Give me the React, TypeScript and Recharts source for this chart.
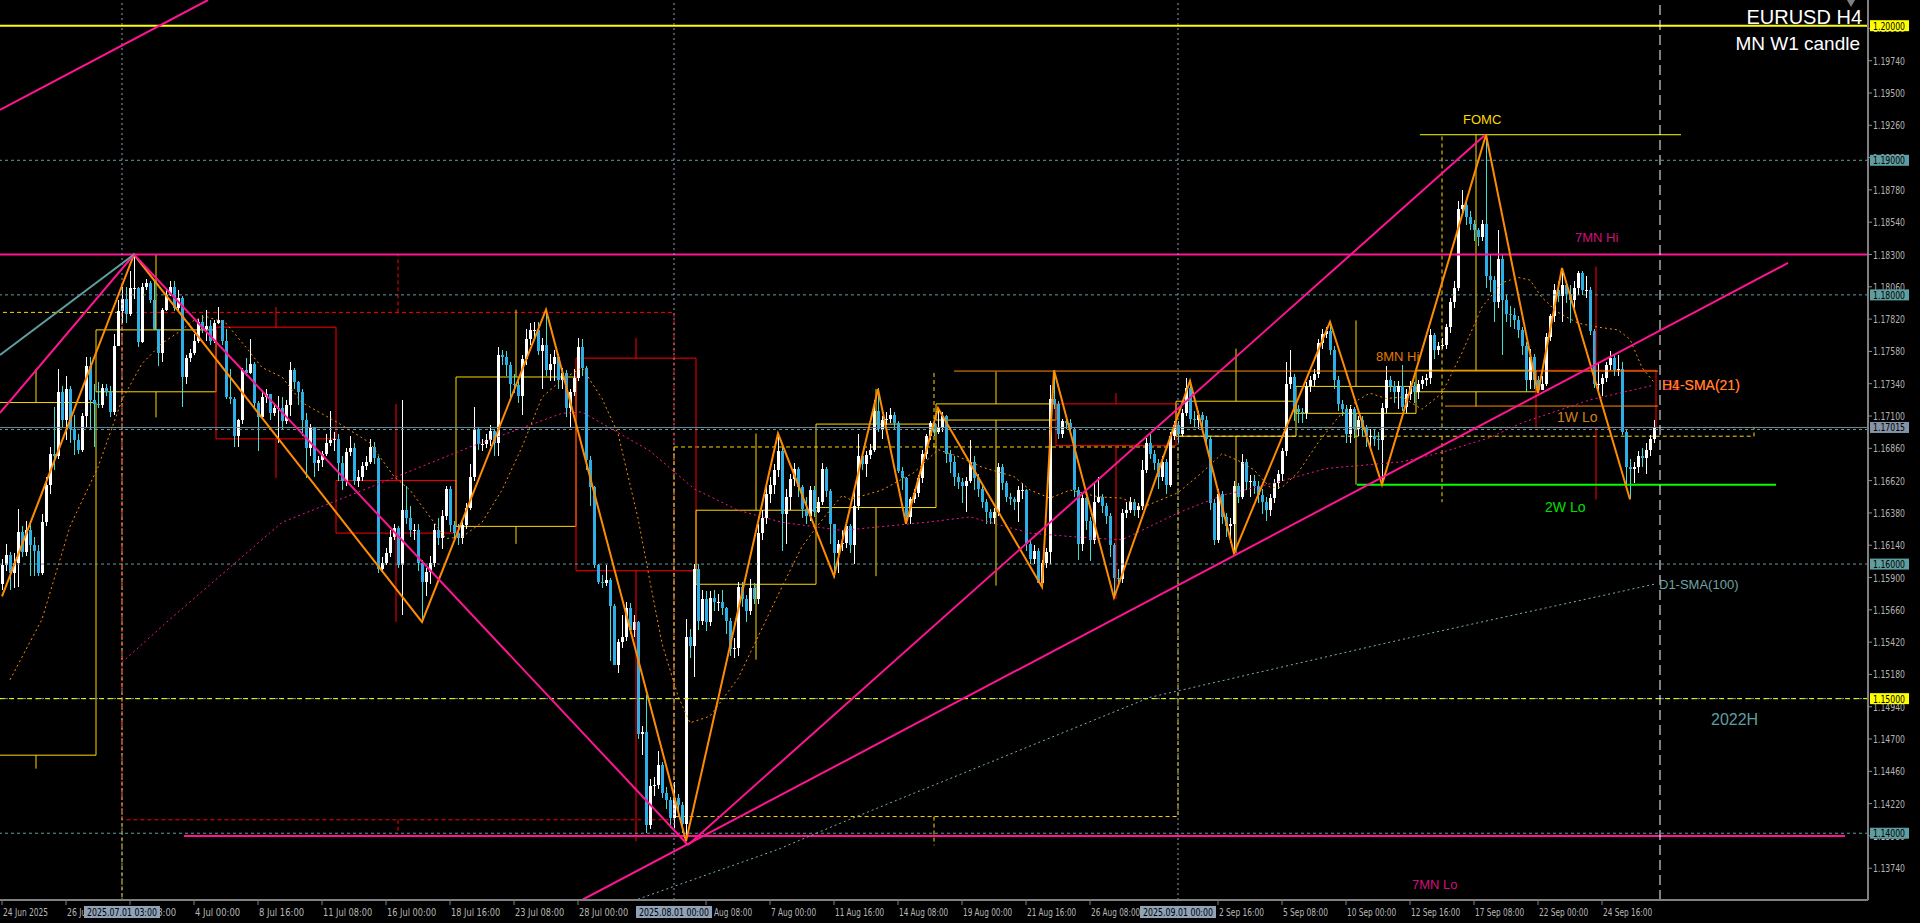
import React from 'react';
import { ComposedChart, Bar, Line, XAxis, YAxis, ReferenceLine, ReferenceArea, ReferenceDot } from 'recharts';

// ---------- candle data (pips above BASE) ----------
const BASE = 1.13;
const firstOpen = 285;
const closeP = [
  299,307,293,301,324,309,325,314,310,293, 331,359,382,380,428,407,430,400,392,385,
  410,447,422,419,418,431,428,413,462,488, 497,486,505,505,465,506,509,496,475,457,
  489,500,506,490,498,439,453,457,466,480, 475,477,466,479,481,466,424,423,395,407,
  444,442,449,420,409,424,426,412,416,416, 406,418,444,435,428,407,386,401,375,377,
  382,390,392,393,375,362,383,386,362,365, 373,376,387,379,296,301,308,320,327,299,
  340,334,325,325,301,287,294,301,325,319, 336,356,329,323,319,329,342,365,400,389,
  389,392,399,390,455,454,448,434,433,425, 452,467,474,474,458,463,444,449,454,437,
  442,416,428,438,461,446,377,357,299,287, 286,288,269,225,242,246,267,251,257,174,
  175,106,135,136,151,130,125,111,126,121, 107,246,239,296,258,274,257,275,272,272,
  267,258,237,238,283,274,265,282,274,323, 334,352,359,370,384,337,350,363,371,357,
  341,336,355,339,346,371,354,330,308,315, 316,328,314,343,380,374,381,385,414,400,
  407,408,411,405,369,364,335,348,353,364, 382,395,405,398,401,410,382,376,365,361,
  358,362,376,364,356,346,339,334,339,372, 360,350,348,346,355,355,315,304,310,286,
  301,309,423,419,397,406,405,400,355,315, 349,332,318,346,350,343,336,314,290,289,
  338,340,346,340,343,370,390,382,375,365, 376,359,395,403,397,412,431,408,407,411,
  407,393,345,318,352,335,328,330,358,350, 376,361,362,358,351,346,340,349,360,367,
  384,434,439,415,413,412,432,437,441,464, 471,473,459,437,419,415,397,415,400,407,
  401,395,395,393,392,416,437,432,428,432, 417,426,432,428,434,437,438,470,459,462,
  463,476,495,505,564,567,558,553,548,543, 553,514,511,495,527,496,486,485,481,474,
  462,437,454,437,429,434,469,484,504,499, 507,501,496,505,516,504,504,473,434,434,
  438,448,453,444,445,398,372,371,372,380, 379,385,393,402,
];
const highP = [
  304,315,309,308,341,328,332,332,320,314, 337,365,387,417,445,432,440,432,411,397,
  412,454,454,434,435,434,434,432,471,496, 506,506,518,530,506,509,512,510,511,475,
  490,504,510,510,504,499,455,460,471,482, 485,489,481,481,491,481,475,445,424,408,
  446,453,467,450,421,429,430,426,420,425, 424,422,450,446,436,430,412,404,402,380,
  384,397,414,398,397,380,386,395,390,370, 376,380,393,391,380,305,312,325,330,328,
  422,358,343,330,330,303,297,306,330,334, 340,358,358,332,330,331,345,374,417,401,
  393,397,403,400,461,459,458,450,441,436, 455,475,479,480,480,468,489,456,459,456,
  446,444,430,445,468,467,447,380,358,300, 292,299,290,270,244,262,272,271,262,258,
  180,203,140,142,161,153,134,127,138,129, 123,259,252,300,300,281,280,280,281,278,
  281,268,260,245,287,287,277,289,286,330, 340,361,365,374,397,388,356,367,375,372,
  359,350,358,358,350,375,372,356,330,318, 325,330,330,356,397,382,384,389,422,431,
  410,413,416,413,406,372,365,350,356,366, 385,397,406,409,416,413,411,385,380,368,
  364,365,392,380,367,358,348,341,342,375, 374,362,353,350,358,360,356,318,314,312,
  303,312,433,444,421,408,410,408,402,357, 352,350,335,361,365,352,345,338,316,296,
  341,346,350,348,345,377,394,398,385,378, 380,378,398,406,406,415,438,437,414,414,
  413,410,395,348,356,354,338,334,362,360, 382,378,366,366,362,356,350,352,363,370,
  386,450,459,441,418,416,435,440,445,467, 475,476,480,462,440,422,418,418,417,410,
  410,403,400,400,398,420,447,440,436,436, 448,430,436,435,437,440,441,475,472,465,
  468,478,498,510,570,578,570,562,556,550, 556,619,530,514,548,530,500,492,490,484,
  476,465,460,456,440,440,472,486,508,510, 520,510,507,510,518,518,514,506,475,450,
  441,450,458,456,455,450,400,378,376,384, 386,390,396,407,
];
const lowP = [
  281,295,281,282,283,305,306,291,291,291, 292,328,352,370,378,402,392,390,381,382,
  383,402,400,387,416,416,425,409,411,469, 479,479,484,497,461,464,504,494,474,447,
  450,488,499,488,489,417,434,450,455,464, 472,466,463,464,478,463,423,419,387,387,
  404,440,441,416,384,408,420,407,410,390, 400,404,410,430,418,395,364,380,365,369,
  372,380,388,384,362,355,358,380,359,357, 362,370,374,374,293,293,299,305,318,297,
  262,330,320,318,295,257,276,285,298,314, 311,333,324,318,314,315,326,340,362,385,
  384,386,388,380,380,448,440,424,427,420, 411,448,463,468,455,430,440,436,436,430,
  430,409,401,425,436,440,370,343,297,285, 282,284,228,225,219,238,243,248,246,170,
  158,100,103,128,133,126,118,104,104,114, 100,94,230,216,251,255,250,254,265,265,
  262,248,232,230,232,268,257,262,270,270, 318,330,345,352,365,310,315,340,358,350,
  334,330,332,335,338,344,350,315,290,293, 310,312,308,300,340,370,365,378,383,398,
  393,403,405,400,368,355,330,330,345,350, 360,378,392,395,397,398,375,368,358,356,
  345,339,360,355,350,342,330,330,330,336, 355,346,344,340,331,348,310,300,300,290,
  283,297,300,415,393,394,400,397,350,303, 310,325,302,315,345,338,330,305,275,283,
  286,334,338,336,334,340,368,378,370,356, 362,352,357,392,390,395,410,404,402,400,
  402,390,340,314,316,330,320,316,308,345, 348,355,350,352,345,337,332,336,345,356,
  362,380,430,406,405,405,408,428,432,438, 460,468,455,430,414,410,390,390,394,395,
  395,387,386,388,385,359,412,428,420,415, 414,412,422,420,423,430,432,434,452,455,
  460,460,472,490,503,560,552,548,540,536, 540,505,502,480,490,455,480,476,475,468,
  455,428,430,430,427,430,432,466,480,495, 480,494,479,490,500,500,498,470,431,428,
  425,435,444,440,440,396,355,348,360,368, 372,367,380,390,
];

// ---------- indicator readings [bar, price] ----------
const h4Sma21: [number, number][] = [
  [2,1.1514],[10,1.1559],[17,1.1628],[24,1.1672],[30,1.1722],[35,1.1749],[40,1.1764],[44,1.1772],[48,1.1781],[51,1.1784],
  [56,1.1779],[61,1.1761],[65,1.1746],[70,1.1739],[75,1.1720],[84,1.1705],[92,1.1690],[98,1.1665],[102,1.1655],[107,1.1635],
  [111,1.1619],[115,1.1620],[120,1.1631],[125,1.1655],[130,1.1687],[135,1.1724],[140,1.1737],[145,1.1746],[150,1.1723],[154,1.1697],
  [159,1.1634],[162,1.1587],[165,1.1541],[169,1.1502],[172,1.1482],[177,1.1487],[180,1.1499],[184,1.1515],[189,1.1546],[194,1.1577],
  [200,1.1613],[204,1.1629],[210,1.1651],[212,1.1648],[220,1.1655],[228,1.1668],[234,1.1685],[239,1.1680],[245,1.1672],[253,1.1665],
  [257,1.1655],[262,1.1649],[267,1.1655],[274,1.1650],[280,1.1649],[285,1.1642],[294,1.1653],[300,1.1668],[305,1.1682],[309,1.1677],
  [313,1.1670],[317,1.1657],[320,1.1657],[324,1.1668],[329,1.1690],[334,1.1709],[339,1.1722],[342,1.1727],[346,1.1723],[350,1.1724],
  [355,1.1715],[360,1.1727],[365,1.1757],[370,1.1791],[375,1.1809],[379,1.1813],[382,1.1811],[385,1.1798],[389,1.1787],[394,1.1779],
  [399,1.1776],[404,1.1774],[407,1.1767],[410,1.1746],[413,1.1735],
];
const d1Sma21: [number, number][] = [
  [30,1.1527],[42,1.1559],[70,1.1631],[92,1.1657],[117,1.1687],[140,1.1712],[145,1.1713],[162,1.1684],[173,1.1656],[184,1.1640],
  [195,1.1631],[210,1.1625],[231,1.1631],[242,1.1635],[257,1.1623],[269,1.1620],[280,1.1618],[294,1.1638],[305,1.1651],[319,1.1661],
  [331,1.1671],[350,1.1676],[360,1.1683],[372,1.1694],[380,1.1705],[397,1.1722],[413,1.1733],
];
const d1Sma100: [number, number][] = [
  [159,1.1351],[194,1.1388],[210,1.1408],[287,1.1501],[350,1.1544],[413,1.1585],
];
const zigzag: [number, number][] = [
  [0,1.1576],[33,1.1830],[105,1.1557],[136,1.1789],[171,1.1394],[194,1.1697],[208,1.1591],[219,1.1730],[226,1.1630],
  [234,1.1716],[260,1.1583],[263,1.1744],[278,1.1575],[297,1.1736],[308,1.1608],[332,1.1780],[345,1.1659],[371,1.1919],
  [384,1.1727],[390,1.1820],[407,1.1648],
];

// ---------- weekly / monthly candles ----------
const weekStart = [-6,24,54,84,114,144,174,204,234,264,294,324,354,384];
const weekOpen  = [1.1458,1.1728,1.1776,1.1662,1.1628,1.1753,1.1585,1.1642,1.1707,1.1719,1.1695,1.1712,1.1728,1.1744];
const weekClose = [1.1720,1.1774,1.1693,1.1623,1.1739,1.1595,1.1640,1.1704,1.1719,1.1688,1.1721,1.1732,1.1744,1.17015];
const weekHigh  = [1.1745,1.1830,1.1791,1.1719,1.1789,1.1768,1.1697,1.1730,1.1743,1.1727,1.1760,1.1781,1.1919,1.1821];
const weekLow   = [1.1448,1.1709,1.1664,1.1557,1.1615,1.1394,1.1529,1.1591,1.1584,1.1574,1.1608,1.1659,1.1717,1.1648];

const monthStart = [-96,30,168,294];
const monthEnd   = [30,168,294,438];
const monthOpen  = [1.1350,1.1787,1.14124,1.1695];
const monthClose = [1.1787,1.1410,1.1687,1.17015];
const monthHigh  = [1.1745,1.1830,1.1743,1.1919];
const monthLow   = [1.1210,1.1400,1.1391,1.1646];
const monthWick  = [-33,99,233,360];

// ---------- axes ----------
const X_MIN = -0.5, X_MAX = 466.5;
const Y_MIN = 1.13504, Y_MAX = 1.20191;
const xTickBars = [0,16,32,48,64,80,96,112,128,144,176,192,208,224,240,256,272,304,320,336,352,368,384,400];
const xTickLabels = ['24 Jun 2025','26 Jun 16:00','1 Jul 08:00','4 Jul 00:00','8 Jul 16:00','11 Jul 08:00','16 Jul 00:00','18 Jul 16:00','23 Jul 08:00','28 Jul 00:00','4 Aug 08:00','7 Aug 00:00','11 Aug 16:00','14 Aug 08:00','19 Aug 00:00','21 Aug 16:00','26 Aug 08:00','2 Sep 16:00','5 Sep 08:00','10 Sep 00:00','12 Sep 16:00','17 Sep 08:00','22 Sep 00:00','24 Sep 16:00'];
const sepBars = [30,168,294];
const sepLabels = ['2025.07.01 03:00','2025.08.01 00:00','2025.09.01 00:00'];

const priceTicks = [1.1374,1.1398,1.1422,1.1446,1.1470,1.1494,1.1518,1.1542,1.1566,1.1590,1.1614,1.1638,1.1662,1.1686,1.1710,1.1734,1.1758,1.1782,1.1806,1.1830,1.1854,1.1878,1.1902,1.1926,1.1950,1.1974,1.1998];
const tagLevels = [1.2,1.19,1.18,1.17015,1.16,1.15,1.14];
const tagColors = ['#ffff00','#5f9ea0','#5f9ea0','#8493a6','#5f9ea0','#ffff00','#5f9ea0'];

// ---------- lines & texts ----------
const tealLevels = [1.19,1.18,1.17,1.16,1.15,1.14];
const trendLines: { a: [number, number]; b: [number, number]; color: string }[] = [
  { a: [-0.5, 1.19374], b: [51.5, 1.20191], color: '#ff1493' },
  { a: [-0.5, 1.17123], b: [33, 1.1830], color: '#ff1493' },
  { a: [-0.5, 1.17554], b: [33, 1.1830], color: '#5f9ea0' },
  { a: [33, 1.1830], b: [171.5, 1.13913], color: '#ff1493' },
  { a: [171.5, 1.13913], b: [370.75, 1.19188], color: '#ff1493' },
  { a: [145, 1.13504], b: [446.5, 1.18237], color: '#ff1493' },
];
const segLines: { y: number; x1: number; x2: number; color: string; w: number }[] = [
  { y: 1.1398, x1: 45.5, x2: 460.75, color: '#ff1493', w: 2 },
  { y: 1.1659, x1: 338.75, x2: 443.5, color: '#00ff00', w: 2 },
  { y: 1.17174, x1: 360.75, x2: 414, color: '#ff8c00', w: 1 },
  { y: 1.17434, x1: 238, x2: 414, color: '#ff8c00', w: 1 },
  { y: 1.1919, x1: 354.5, x2: 419.75, color: '#ffff00', w: 1 },
];
const texts: { t: string; bar: number; p: number; color: string; size: number }[] = [
  { t: 'FOMC', bar: 365.25, p: 1.19307, color: '#ffd700', size: 13 },
  { t: '7MN Hi', bar: 393.25, p: 1.18430, color: '#d0107a', size: 13 },
  { t: '8MN Hi', bar: 343.5, p: 1.17539, color: '#e07b00', size: 13 },
  { t: 'D1-SMA(21)', bar: 415, p: 1.17331, color: '#ff1493', size: 14 },
  { t: 'H4-SMA(21)', bar: 415, p: 1.17331, color: '#ff8c00', size: 14 },
  { t: '1W Lo', bar: 388.75, p: 1.17093, color: '#d2801a', size: 14 },
  { t: '2W Lo', bar: 385.75, p: 1.16424, color: '#00e000', size: 14 },
  { t: 'D1-SMA(100)', bar: 414.25, p: 1.15852, color: '#6fa3a3', size: 13 },
  { t: '2022H', bar: 427.25, p: 1.14849, color: '#5f9ea0', size: 16 },
  { t: '7MN Lo', bar: 352.5, p: 1.13623, color: '#d0107a', size: 13 },
];

// ---------- build table ----------
type Row = { i: number; o: number; h: number; l: number; c: number; range: [number, number]; h4?: number; d21?: number; d100?: number; zz?: number };
const rows: Row[] = closeP.map((cv, i) => {
  const o = BASE + (i === 0 ? firstOpen : closeP[i - 1]) / 10000;
  const c = BASE + cv / 10000;
  const h = Math.max(BASE + highP[i] / 10000, o, c);
  const l = Math.min(BASE + lowP[i] / 10000, o, c);
  return { i, o, h, l, c, range: [l, h] };
});
h4Sma21.forEach(([b, v]) => { rows[b].h4 = v; });
d1Sma21.forEach(([b, v]) => { rows[b].d21 = v; });
d1Sma100.forEach(([b, v]) => { rows[b].d100 = v; });
zigzag.forEach(([b, v]) => { rows[b].zz = v; });

const FONT = "'Liberation Sans', Arial, sans-serif";
const AXFONT = "'DejaVu Sans Condensed', 'Liberation Sans Narrow', 'Liberation Sans', sans-serif";

const Candle = (props: any) => {
  const { x, y, width, height, payload } = props;
  if (!payload) return null;
  const { o, h, l, c } = payload;
  let top = y, hh = height;
  if (hh < 0) { top = y + hh; hh = -hh; }
  const k = h > l ? hh / (h - l) : 0;
  const cx = Math.round(x + width / 2);
  const yO = top + (h - o) * k;
  const yC = top + (h - c) * k;
  const bull = c >= o;
  const bt = Math.min(yO, yC);
  const bh = Math.max(1, Math.abs(yO - yC));
  return (
    <g shapeRendering="crispEdges">
      <rect x={cx} y={top} width={1} height={Math.max(1, hh)} fill={bull ? '#ffffff' : '#40e0d0'} />
      <rect x={cx - 1} y={bt} width={3} height={bh} fill={bull ? '#ffffff' : '#2eaee6'} />
    </g>
  );
};

const XTick = (props: any) => {
  const { x, y, payload } = props;
  const v = payload.value;
  const si = sepBars.indexOf(v);
  if (si >= 0) {
    return (
      <g>
        <rect x={x - 38} y={y + 6} width={76} height={12} fill="#8fa2b8" />
        <text x={x} y={y + 15.5} textAnchor="middle" fill="#000" fontSize={11} fontFamily={AXFONT} textLength={70} lengthAdjust="spacingAndGlyphs">{sepLabels[si]}</text>
      </g>
    );
  }
  const ti = xTickBars.indexOf(v);
  const t = ti >= 0 ? xTickLabels[ti] : '';
  return (
    <g>
      <line x1={x} x2={x} y1={y} y2={y + 5} stroke="#808080" />
      <text x={x + 1} y={y + 15.5} fill="#b8b8b8" fontSize={11} fontFamily={AXFONT} textLength={t.length * 4.1} lengthAdjust="spacingAndGlyphs">{t}</text>
    </g>
  );
};

const YTick = (props: any) => {
  const { x, y, payload } = props;
  const v = payload.value as number;
  const ti = tagLevels.findIndex((t) => Math.abs(t - v) < 1e-7);
  const label = v.toFixed(5);
  if (ti >= 0) {
    return (
      <g>
        <rect x={x + 2} y={y - 5.5} width={39} height={11} fill={tagColors[ti]} />
        <text x={x + 5} y={y + 4} fill="#000" fontSize={11} fontFamily={AXFONT} textLength={32} lengthAdjust="spacingAndGlyphs">{label}</text>
      </g>
    );
  }
  return (
    <g>
      <line x1={x} x2={x + 4} y1={y} y2={y} stroke="#909090" />
      <text x={x + 5} y={y + 4} fill="#b4b4b4" fontSize={11} fontFamily={AXFONT} textLength={32} lengthAdjust="spacingAndGlyphs">{label}</text>
    </g>
  );
};

const Tag = (props: any) => {
  const { viewBox, text, color, size } = props;
  if (!viewBox) return null;
  const x = viewBox.x + (viewBox.width || 0) / 2;
  const y = viewBox.y + (viewBox.height || 0) / 2;
  return (
    <text x={x} y={y} dy="0.35em" fill={color} fontSize={size} fontFamily={FONT}>{text}</text>
  );
};

export default function App() {
  return (
    <div style={{ position: 'absolute', left: 0, top: 0, width: 1920, height: 923, background: '#000', overflow: 'hidden' }}>
      <ComposedChart width={1920} height={923} data={rows} margin={{ top: 0, right: 0, bottom: 0, left: 0 }}>
        <XAxis dataKey="i" type="number" domain={[X_MIN, X_MAX]} allowDataOverflow ticks={[...xTickBars, ...sepBars]} interval={0}
          tick={XTick} tickLine={false} tickSize={0} tickMargin={0} axisLine={{ stroke: '#808080', strokeWidth: 2 }} height={23} />
        <YAxis orientation="right" type="number" domain={[Y_MIN, Y_MAX]} allowDataOverflow ticks={[...priceTicks, ...tagLevels]} interval={0}
          tick={YTick} tickLine={false} tickSize={0} tickMargin={0} axisLine={{ stroke: '#808080', strokeWidth: 2 }} width={52} />

        {/* monthly candles (dashed) */}
        {monthStart.map((s, k) => {
          const col = monthClose[k] >= monthOpen[k] ? '#ffd700' : '#ff0000';
          const top = Math.max(monthOpen[k], monthClose[k]);
          const bot = Math.min(monthOpen[k], monthClose[k]);
          return (
            <React.Fragment key={'m' + k}>
              <ReferenceArea x1={s} x2={monthEnd[k]} y1={bot} y2={top} fill="none" stroke={col} strokeDasharray="4 3" ifOverflow="hidden" />
              <ReferenceLine segment={[{ x: monthWick[k], y: top }, { x: monthWick[k], y: monthHigh[k] }]} stroke={col} strokeDasharray="4 3" ifOverflow="hidden" />
              <ReferenceLine segment={[{ x: monthWick[k], y: bot }, { x: monthWick[k], y: monthLow[k] }]} stroke={col} strokeDasharray="4 3" ifOverflow="hidden" />
            </React.Fragment>
          );
        })}
        {/* weekly candles */}
        {weekStart.map((s, k) => {
          const col = weekClose[k] >= weekOpen[k] ? '#ffd700' : '#ff0000';
          const top = Math.max(weekOpen[k], weekClose[k]);
          const bot = Math.min(weekOpen[k], weekClose[k]);
          const mid = s + 14.5;
          return (
            <React.Fragment key={'w' + k}>
              <ReferenceArea x1={s - 0.5} x2={s + 29.5} y1={bot} y2={top} fill="none" stroke={col} ifOverflow="hidden" />
              <ReferenceLine segment={[{ x: mid, y: top }, { x: mid, y: weekHigh[k] }]} stroke={col} ifOverflow="hidden" />
              <ReferenceLine segment={[{ x: mid, y: bot }, { x: mid, y: weekLow[k] }]} stroke={col} ifOverflow="hidden" />
            </React.Fragment>
          );
        })}

        {/* horizontal levels */}
        {tealLevels.map((v) => (
          <ReferenceLine key={'t' + v} y={v} stroke="#5f9ea0" strokeDasharray="3 3" ifOverflow="hidden" />
        ))}
        <ReferenceLine y={1.15} stroke="#ffff00" strokeDasharray="5 4" ifOverflow="hidden" />
        <ReferenceLine y={1.17015} stroke="#778899" ifOverflow="hidden" />
        <ReferenceLine y={1.2} stroke="#ffff00" strokeWidth={2} ifOverflow="hidden" />
        <ReferenceLine y={1.183} stroke="#ff1493" strokeWidth={2} ifOverflow="hidden" />
        {segLines.map((s, k) => (
          <ReferenceLine key={'s' + k} segment={[{ x: s.x1, y: s.y }, { x: s.x2, y: s.y }]} stroke={s.color} strokeWidth={s.w} ifOverflow="hidden" />
        ))}

        {/* vertical separators */}
        {sepBars.map((b) => (
          <ReferenceLine key={'v' + b} x={b} stroke="#8aa0b4" strokeDasharray="2 3" ifOverflow="hidden" />
        ))}
        <ReferenceLine x={414.5} stroke="#ffffff" strokeDasharray="10 5" ifOverflow="hidden" />

        <Bar dataKey="range" shape={Candle} barSize={3} isAnimationActive={false} />

        <Line dataKey="d100" stroke="#7fb0b0" strokeDasharray="2 3" dot={false} activeDot={false} connectNulls isAnimationActive={false} />
        <Line dataKey="d21" stroke="#ff1493" strokeDasharray="2 3" dot={false} activeDot={false} connectNulls isAnimationActive={false} />
        <Line dataKey="h4" stroke="#ff8c00" strokeDasharray="2 3" dot={false} activeDot={false} connectNulls isAnimationActive={false} />
        <Line dataKey="zz" stroke="#ff8c00" strokeWidth={2} dot={false} activeDot={false} connectNulls isAnimationActive={false} />

        {trendLines.map((t, k) => (
          <ReferenceLine key={'tl' + k} segment={[{ x: t.a[0], y: t.a[1] }, { x: t.b[0], y: t.b[1] }]} stroke={t.color} strokeWidth={2} ifOverflow="hidden" />
        ))}

        {texts.map((t, k) => (
          <ReferenceDot key={'tx' + k} x={t.bar} y={t.p} r={0} fill="none" stroke="none" ifOverflow="visible"
            label={<Tag text={t.t} color={t.color} size={t.size} />} />
        ))}
      </ComposedChart>
      <svg width={1920} height={70} style={{ position: 'absolute', left: 0, top: 0, pointerEvents: 'none' }}>
        <text x={1862} y={24} textAnchor="end" fill="#ffffff" fontSize={20} fontFamily={FONT}>EURUSD H4</text>
        <text x={1860} y={50} textAnchor="end" fill="#ffffff" fontSize={19} fontFamily={FONT}>MN W1 candle</text>
        <polygon points="1847,0 1855,0 1851,7" fill="#808080" />
      </svg>
    </div>
  );
}
